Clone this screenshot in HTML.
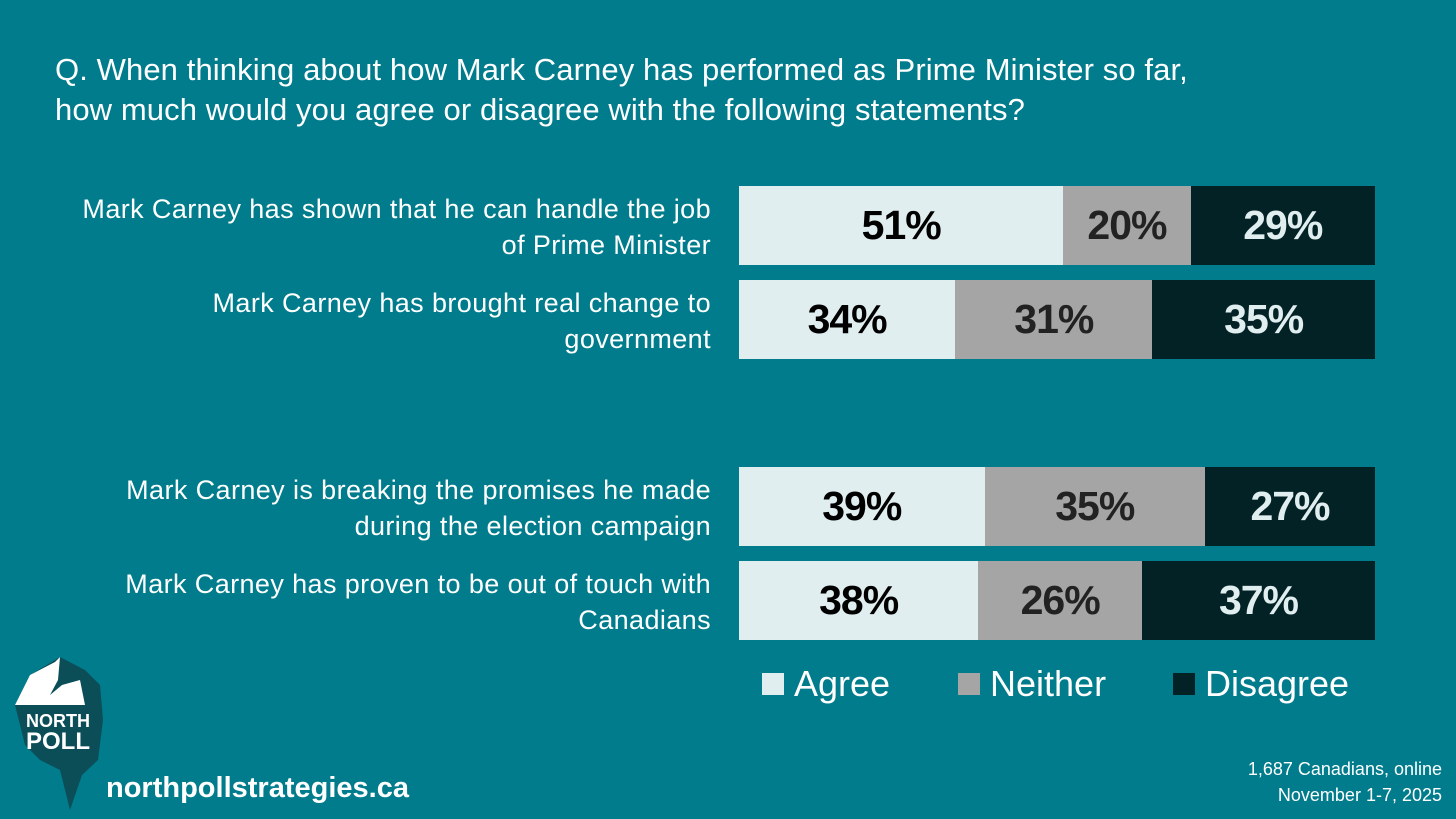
<!DOCTYPE html>
<html><head><meta charset="utf-8"><style>
body{margin:0;width:1456px;height:819px;background:#007C8C;overflow:hidden;font-family:"Liberation Sans",sans-serif;color:#fff;position:relative}
.t{position:absolute}
#title{left:55px;top:50px;font-size:31px;line-height:40px;font-weight:300;letter-spacing:0.1px}
.lab{position:absolute;right:745px;text-align:right;font-size:27px;line-height:36px;width:720px;letter-spacing:0.4px}
.seg{position:absolute;display:flex;align-items:center;justify-content:center;font-weight:bold;font-size:41px;letter-spacing:-1px}
.leg{position:absolute;top:663px;font-size:36px;display:flex;align-items:center}
.sw{width:22px;height:22px;margin-right:10px}
</style></head><body>
<div id="title" class="t">Q. When thinking about how Mark Carney has performed as Prime Minister so far,<br>how much would you agree or disagree with the following statements?</div>
<div id="chart"></div>
<div class="leg" style="left:762px"><div class="sw" style="background:#E0EEF0"></div>Agree</div>
<div class="leg" style="left:958px"><div class="sw" style="background:#A5A5A5"></div>Neither</div>
<div class="leg" style="left:1173px"><div class="sw" style="background:#032226"></div>Disagree</div>
<svg class="t" style="left:0;top:650px" width="120" height="169">
<polygon points="30,25 60,7 85,20 100,35 103,70 98,110 82,125 70,160 60,120 40,110 25,95 15,55" fill="#0B4E58"/>
<polygon points="15,55 30,25 55,12 60,7 58,30 50,45 62,35 80,30 85,55" fill="#fff"/>
<text x="58" y="77" font-family="Liberation Sans" font-weight="bold" font-size="18" fill="#fff" text-anchor="middle">NORTH</text>
<text x="58" y="99" font-family="Liberation Sans" font-weight="bold" font-size="24" fill="#fff" text-anchor="middle">POLL</text>
</svg>
<div class="t" style="left:106px;top:772px;font-size:29px;font-weight:bold">northpollstrategies.ca</div>
<div class="t" style="right:14px;top:756px;font-size:18px;line-height:26px;text-align:right;font-weight:300">1,687 Canadians, online<br>November 1-7, 2025</div>
<script>
const statements=["Mark Carney has shown that he can handle the job of Prime Minister","Mark Carney has brought real change to government","Mark Carney is breaking the promises he made during the election campaign","Mark Carney has proven to be out of touch with Canadians"];
const labelLines=[["Mark Carney has shown that he can handle the job","of Prime Minister"],["Mark Carney has brought real change to","government"],["Mark Carney is breaking the promises he made","during the election campaign"],["Mark Carney has proven to be out of touch with","Canadians"]];
const agree=[51,34,39,38];
const neither=[20,31,35,26];
const disagree=[29,35,27,37];
const rowTops=[186,280,467,561];
const X0=739,W=636,H=79;
const chart=document.getElementById('chart');
const cols=[["#E0EEF0","#000"],["#A5A5A5","#222"],["#032226","#E0EEF0"]];
const names=["agree","neither","disagree"];
statements.forEach((s,i)=>{
  const vals=[agree[i],neither[i],disagree[i]];
  const tot=vals.reduce((a,b)=>a+b,0);
  let x=X0;
  vals.forEach((v,j)=>{
    const w=v/tot*W;
    const d=document.createElement('div');
    d.className='seg';
    
    
    d.style.cssText=`left:${x}px;top:${rowTops[i]}px;width:${w}px;height:${H}px;background:${cols[j][0]};color:${cols[j][1]}`;
    d.textContent=v+'%';
    chart.appendChild(d);x+=w;
  });
  const l=document.createElement('div');
  l.className='lab';
  
  
  l.style.top=(rowTops[i]+5)+'px';
  l.innerHTML=labelLines[i].join('<br>');
  chart.appendChild(l);
});
</script>
</body></html>
